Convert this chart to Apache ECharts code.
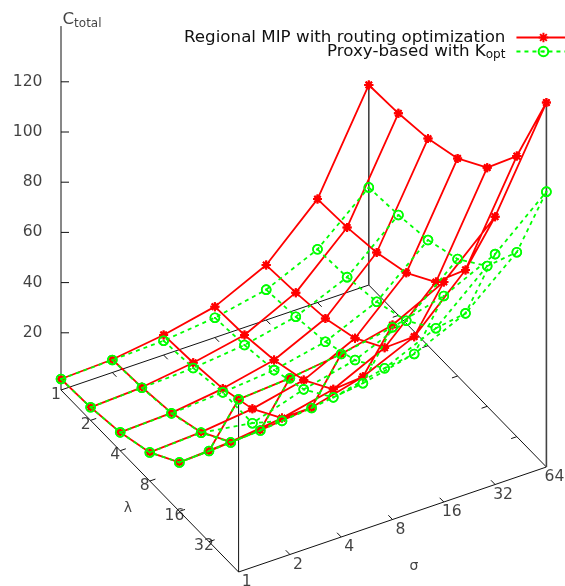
<!DOCTYPE html>
<html lang="en">
  <head>
    <meta charset="UTF-8" />
    <title>C_total surface</title>
    <script src="https://cdn.jsdelivr.net/npm/echarts@6/dist/echarts.min.js"></script>
    <style>
      html,
      body {
        margin: 0;
        background: #fff;
      }
      #chart {
        width: 565px;
        height: 586px;
      }
    </style>
  </head>
  <body>
    <div id="chart"></div>
    <script>
      var sigmaLabels = ["1", "2", "4", "8", "16", "32", "64"];
      var lambdaLabels = ["1", "2", "4", "8", "16", "32"];
      var zTicks = [20, 40, 60, 80, 100, 120];
      var zMin = -2.8;
      var zMax = 142.2;
      var redName = "Regional MIP with routing optimization";
      var greenName = "Proxy-based with Kopt";
      var font = "DejaVu Sans";

      // one line per sigma, values along lambda = 1..64
      var redS1 = [1.6, 2.4, 4.5, 8.6, 16.7, 33.3, 66];
      var redS2 = [2.4, 3.4, 5.3, 9.7, 17.9, 34.7, 67.5];
      var redS4 = [5.2, 6.2, 8, 12, 20.4, 36.7, 70.1];
      var redS8 = [9.5, 10.3, 12.4, 16.5, 24.9, 42, 74.7];
      var redS16 = [19.1, 20.2, 22, 26.2, 34.5, 51, 84.9];
      var redS32 = [38.4, 39.2, 41.3, 45.3, 53.7, 70.6, 103.9];
      var redS64 = [76.9, 77.7, 79.7, 83.9, 92.3, 109, 142.4];

      var greenS1 = [1.6, 2.4, 4.5, 8.6, 16.7, 33.3, 66];
      var greenS2 = [2.2, 3.2, 5.1, 9.5, 17.7, 34.5, 67.4];
      var greenS4 = [2.9, 4.1, 6.5, 6.3, 19.3, 36.5, 70.1];
      var greenS8 = [5.1, 6.3, 8.4, 12.8, 21.7, 39.4, 73.8];
      var greenS16 = [9.3, 10.6, 12.7, 17.5, 26.3, 44.1, 79.3];
      var greenS32 = [18.4, 19.4, 21.7, 26.2, 35.3, 53.3, 89];
      var greenS64 = [36.1, 37.2, 39.3, 43.8, 53.1, 70.7, 106.9];

      var red = [redS1, redS2, redS4, redS8, redS16, redS32, redS64];
      var green = [greenS1, greenS2, greenS4, greenS8, greenS16, greenS32, greenS64];

      // gnuplot style oblique view: sigma step, lambda step, z scale
      function project(i, j, z) {
        return [61 + 51.3 * i + 29.6 * j, 383 - 17.5 * i + 30.33 * j - 2.51 * z];
      }

      var gap = ["-", "-"];

      // isolines along both directions, broken with a gap
      function meshLines(grid) {
        var out = [];
        var i, j;
        for (i = 0; i < 7; i++) {
          for (j = 0; j < 7; j++) out.push(project(i, j, grid[i][j]));
          out.push(gap);
        }
        for (j = 0; j < 7; j++) {
          for (i = 0; i < 7; i++) out.push(project(i, j, grid[i][j]));
          out.push(gap);
        }
        return out;
      }

      function axisLines() {
        var out = [];
        function seg(a, b) {
          out.push(a, b, gap);
        }
        seg(project(0, 0, zMin), project(6, 0, zMin));
        seg(project(6, 0, zMin), project(6, 6, zMin));
        seg(project(6, 6, zMin), project(0, 6, zMin));
        seg(project(0, 6, zMin), project(0, 0, zMin));
        for (var k = 1; k < 6; k++) {
          seg(project(k, 0, zMin), project(k, 0.14, zMin));
          seg(project(k, 6, zMin), project(k, 5.86, zMin));
          seg(project(0, k, zMin), project(0.11, k, zMin));
          seg(project(6, k, zMin), project(5.89, k, zMin));
        }
        seg(project(0, 0, zMin), project(0, 0, zMax));
        seg(project(0, 6, zMin), project(0, 6, red[0][6]));
        zTicks.forEach(function (t) {
          var p = project(0, 0, t);
          seg(p, [p[0] + 8, p[1]]);
        });
        return out;
      }

      function cornerLines() {
        return [
          project(6, 0, zMin),
          project(6, 0, red[6][0]),
          gap,
          project(6, 6, zMin),
          project(6, 6, red[6][6]),
        ];
      }

      function shift(p, dx, dy) {
        return [p[0] + dx, p[1] + dy];
      }

      var textBase = {
        show: true,
        position: "inside",
        color: "#111",
        fontFamily: font,
        fontSize: 15.6,
      };

      function textSeries(items) {
        return {
          type: "scatter",
          silent: true,
          symbolSize: 1,
          itemStyle: { color: "transparent" },
          z: 5,
          data: items.map(function (it) {
            return {
              value: it.pos,
              label: Object.assign({}, textBase, it.label || {}, {
                formatter: it.text,
              }),
            };
          }),
        };
      }

      var labels = [];
      zTicks.forEach(function (t) {
        labels.push({
          pos: project(0, 0, t),
          text: String(t),
          label: { position: "left", distance: 18 },
        });
      });
      lambdaLabels.forEach(function (t, j) {
        labels.push({ pos: shift(project(0, j, zMin), -5, 4.5), text: t });
      });
      sigmaLabels.forEach(function (t, i) {
        labels.push({ pos: shift(project(i, 6, zMin), 8, 10), text: t });
      });
      labels.push({ pos: [128, 508], text: "λ", label: { fontSize: 14 } });
      labels.push({ pos: [414, 566], text: "σ", label: { fontSize: 14 } });
      var rich = {
        m: { fontFamily: font, fontSize: 16.7, color: "#111", lineHeight: 15 },
        s: { fontFamily: font, fontSize: 12, color: "#111", lineHeight: 15, padding: [7, 0, 0, 0] },
        g: { width: 6, lineHeight: 15 },
      };
      labels.push({
        pos: [82, 20],
        text: "{m|C}{s|total}",
        label: { rich: rich },
      });

      var mCharts = echarts.init(document.getElementById("chart"));
      mCharts.setOption({
        animation: false,
        backgroundColor: "#fff",
        grid: { left: 0, right: 0, top: 0, bottom: 0 },
        xAxis: { type: "value", min: 0, max: 565, show: false },
        yAxis: { type: "value", min: 0, max: 586, inverse: true, show: false },
        legend: {
          data: [redName, greenName],
          orient: "vertical",
          align: "right",
          left: 184,
          top: 29,
          itemWidth: 54,
          itemHeight: 12,
          itemGap: -4,
          padding: 0,
          selectedMode: false,
          textStyle: {
            fontFamily: font,
            fontSize: 16.7,
            color: "#111",
            rich: rich,
          },
          formatter: function (name) {
            return name === greenName
              ? "{m|Proxy-based with K}{s|opt}{g|}"
              : "{m|" + name + "}{g|}";
          },
        },
        series: [
          {
            name: "axes",
            type: "line",
            silent: true,
            showSymbol: false,
            data: axisLines(),
            lineStyle: { color: "#111", width: 1 },
            z: 1,
          },
          {
            name: "corners",
            type: "line",
            silent: true,
            showSymbol: false,
            data: cornerLines(),
            lineStyle: { color: "#444", width: 1.6 },
            z: 1,
          },
          {
            name: redName,
            type: "line",
            silent: true,
            showAllSymbol: true,
            symbol: "path://M0,5L10,5M5,0L5,10M1.5,1.5L8.5,8.5M1.5,8.5L8.5,1.5",
            symbolSize: 9,
            data: meshLines(red),
            lineStyle: { color: "#ff0000", width: 1.8 },
            itemStyle: { color: "#ff0000", borderColor: "#ff0000", borderWidth: 2 },
            z: 2,
          },
          {
            name: greenName,
            type: "line",
            silent: true,
            showAllSymbol: true,
            symbol: "path://M0,5A5,5,0,1,1,10,5A5,5,0,1,1,0,5ZM4,5L6,5",
            symbolSize: 9,
            data: meshLines(green),
            lineStyle: { color: "#00ff00", width: 1.8, type: [4, 4] },
            itemStyle: { color: "rgba(0,0,0,0)", borderColor: "#00ff00", borderWidth: 1.6 },
            z: 3,
          },
          textSeries(labels),
        ],
      });
      window.onresize = mCharts.resize;
    </script>
  </body>
</html>
